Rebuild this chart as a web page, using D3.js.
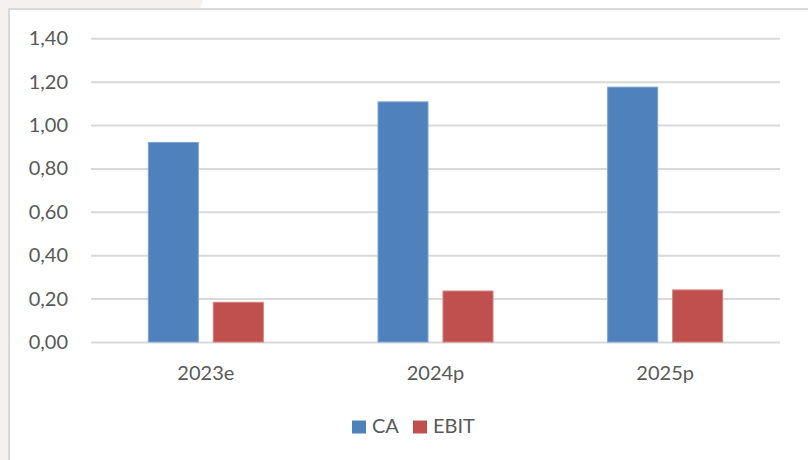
<!DOCTYPE html>
<html><head><meta charset="utf-8">
<script src="https://cdn.jsdelivr.net/npm/d3@7"></script>
<style>body{margin:0;background:#fff;}svg{display:block;font-family:Lato,"Open Sans",sans-serif;}</style>
</head><body><svg id="c" width="808" height="460"></svg>
<script>
const categories = ["2023e", "2024p", "2025p"];
const seriesNames = ["CA", "EBIT"];
const caValues = [0.92, 1.107, 1.175];
const ebitValues = [0.183, 0.235, 0.24];
const yTicks = [0, 0.2, 0.4, 0.6, 0.8, 1.0, 1.2, 1.4];
const colors = ["#4f81bd", "#c0504d"];
const strokeColors = ["#7ea3d3", "#d27f7d"];

const svg = d3.select("#c");
// page background strips
svg.append("path").attr("d","M0,0 L203,0 L200,9 L9,9 L9,460 L0,460 Z").attr("fill","#f5f1f1");
// chart border
svg.append("path").attr("d","M9,460 L9,9 L808,9").attr("fill","none").attr("stroke","#d9d9d9").attr("stroke-width",2);

const x0 = 91, x1 = 780;
const y = d3.scaleLinear().domain([0, 1.4]).range([342, 38.3]);
const xb = d3.scaleBand().domain(categories).range([x0, x1]);
const inner = d3.scaleBand().domain(seriesNames).range([0, 116]).paddingInner(0.215);

const fmt = v => d3.format(".2f")(v).replace(".", ",");

const yAxis = d3.axisLeft(y).tickValues(yTicks).tickFormat(fmt).tickSize(-(x1 - x0)).tickPadding(23);
const gy = svg.append("g").attr("transform", `translate(${x0},0)`).call(yAxis);
gy.select(".domain").remove();
gy.selectAll(".tick line").attr("stroke", "#d9d9d9").attr("stroke-width", 2);
gy.selectAll(".tick text").attr("fill", "#595959").attr("font-size", 20).attr("font-family","Lato");

const data = categories.map((c, i) => ({cat: c, vals: [caValues[i], ebitValues[i]]}));
const groups = svg.append("g").selectAll("g").data(data).join("g")
  .attr("transform", d => `translate(${xb(d.cat) + (xb.bandwidth() - 116) / 2},0)`);
groups.selectAll("rect").data(d => d.vals.map((v, j) => ({s: seriesNames[j], v, j}))).join("rect")
  .attr("x", d => inner(d.s) + 0.5)
  .attr("width", inner.bandwidth() - 1)
  .attr("y", d => y(d.v))
  .attr("height", d => y(0) - y(d.v))
  .attr("fill", d => colors[d.j])
  .attr("stroke", d => strokeColors[d.j]).attr("stroke-width", 1);

const xAxis = d3.axisBottom(xb).tickSize(0).tickPadding(24);
const gx = svg.append("g").attr("transform", `translate(0,342)`).call(xAxis);
gx.select(".domain").remove();
gx.selectAll(".tick text").attr("fill", "#595959").attr("font-size", 20).attr("font-family","Lato");

// legend
const legendX = [352, 413];
const lg = svg.append("g");
seriesNames.forEach((s, i) => {
  lg.append("rect").attr("x", legendX[i]).attr("y", 420.5).attr("width", 14).attr("height", 13).attr("fill", colors[i]);
  lg.append("text").attr("x", legendX[i] + 20).attr("y", 433).attr("fill", "#595959").attr("font-size", 20).text(s);
});
</script></body></html>
